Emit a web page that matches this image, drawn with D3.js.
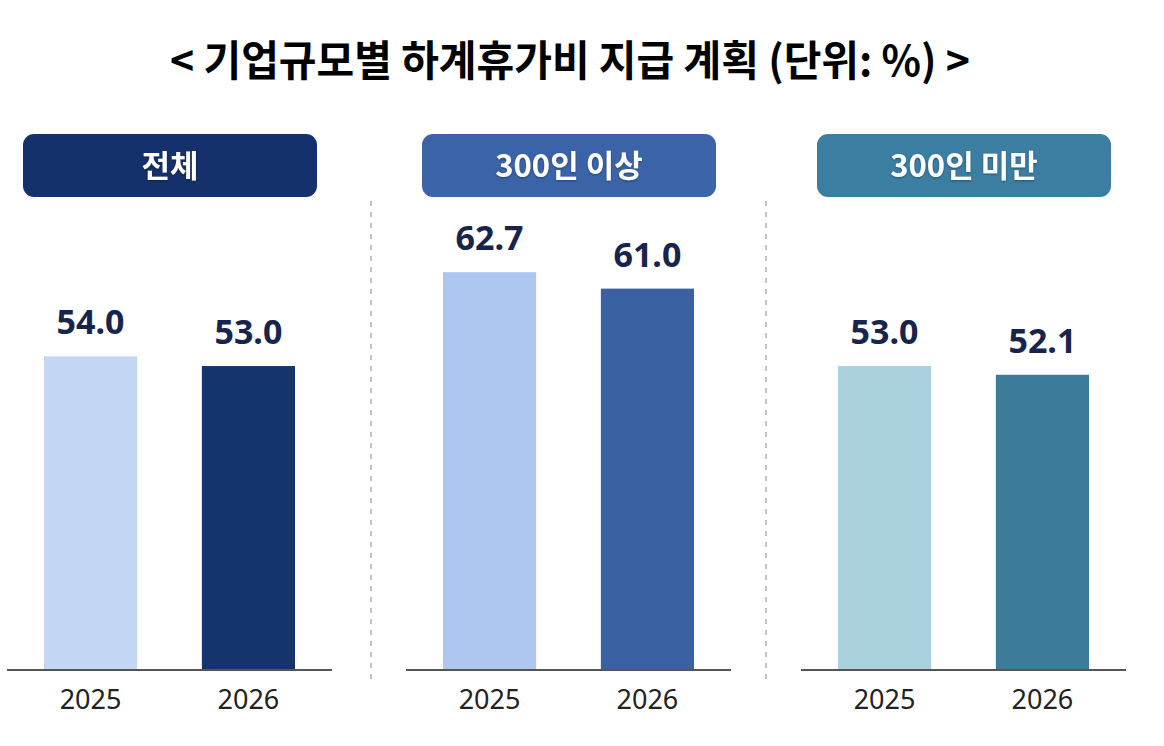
<!DOCTYPE html>
<html><head><meta charset="utf-8">
<script src="https://cdn.jsdelivr.net/npm/d3@7"></script>
<style>
html,body{margin:0;padding:0;background:#fff;}
svg{display:block;}
</style></head>
<body>
<svg id="chart" width="1164" height="746"></svg>
<script>
const title = "< 기업규모별 하계휴가비 지급 계획 (단위: %) >";
const groups = ["전체", "300인 이상", "300인 미만"];
const years = ["2025", "2026"];
const values2025 = [54.0, 62.7, 53.0];
const values2026 = [53.0, 61.0, 52.1];
const headerColors = ["#15316c", "#3b63a8", "#3b7ea2"];
const lightColors = ["#c3d6f4", "#adc6f0", "#aad1de"];
const darkColors = ["#15336c", "#3a61a1", "#3c7b9a"];

const svg = d3.select("#chart");
const W = 1164, H = 746;
svg.append("rect").attr("width", W).attr("height", H).attr("fill", "#fff");

svg.append("text")
  .attr("x", 570).attr("y", 76)
  .attr("text-anchor", "middle")
  .attr("font-family", "'Noto Sans CJK KR', sans-serif")
  .attr("font-weight", 700)
  .attr("font-size", 42)
  .attr("textLength", 800)
  .attr("lengthAdjust", "spacingAndGlyphs")
  .attr("fill", "#000")
  .text(title);

const panelOffsets = [0, 399, 794];
const baseY = 670;
const y = d3.scaleLinear().domain([21.6, 70]).range([baseY, 201.5]);
const x = d3.scaleBand().domain(years).range([44, 295]).paddingInner(0.41).paddingOuter(0);

const defs = svg.append("defs");
const f = defs.append("filter").attr("id", "ts").attr("x", "-20%").attr("y", "-20%").attr("width", "140%").attr("height", "140%");
f.append("feDropShadow").attr("dx", 0).attr("dy", 1).attr("stdDeviation", 1.2).attr("flood-color", "#000").attr("flood-opacity", 0.35);

groups.forEach((g, i) => {
  const gx = svg.append("g").attr("transform", `translate(${panelOffsets[i]},0)`);
  gx.append("rect")
    .attr("x", 23).attr("y", 134).attr("width", 294).attr("height", 63)
    .attr("rx", 11).attr("fill", headerColors[i]);
  gx.append("text")
    .attr("x", 170).attr("y", 166)
    .attr("dy", "0.36em")
    .attr("text-anchor", "middle")
    .attr("font-family", "'Noto Sans CJK KR', sans-serif")
    .attr("font-weight", 700)
    .attr("font-size", 31)
    .attr("fill", "#fff")
    .attr("filter", "url(#ts)")
    .text(g);
  if (i > 0) {
    gx.append("line")
      .attr("x1", -28).attr("x2", -28).attr("y1", 201).attr("y2", 684)
      .attr("stroke", "#b5b5b5").attr("stroke-width", 1.6)
      .attr("stroke-dasharray", "5,6");
  }
  const vals = [values2025[i], values2026[i]];
  const cols = [lightColors[i], darkColors[i]];
  years.forEach((yr, j) => {
    gx.append("rect")
      .attr("x", x(yr)).attr("width", x.bandwidth())
      .attr("y", y(vals[j])).attr("height", baseY - y(vals[j]))
      .attr("fill", cols[j]);
    gx.append("text")
      .attr("x", x(yr) + x.bandwidth() / 2)
      .attr("y", y(vals[j]) - 22)
      .attr("text-anchor", "middle")
      .attr("font-family", "'Noto Sans', sans-serif")
      .attr("font-weight", 700)
      .attr("font-size", 34)
      .attr("fill", "#17244c")
      .text(vals[j].toFixed(1));
  });
  const axis = d3.axisBottom(x).tickSize(0).tickPadding(0);
  const ag = gx.append("g").attr("transform", `translate(0,${baseY})`).call(axis);
  ag.select(".domain").remove();
  ag.selectAll("text")
    .attr("y", 39)
    .attr("dy", 0)
    .attr("font-family", "'Noto Sans', sans-serif")
    .attr("font-size", 27)
    .attr("fill", "#222");
  gx.append("line")
    .attr("x1", 7).attr("x2", 332).attr("y1", baseY).attr("y2", baseY)
    .attr("stroke", "#555").attr("stroke-width", 2);
});
</script>
</body></html>
